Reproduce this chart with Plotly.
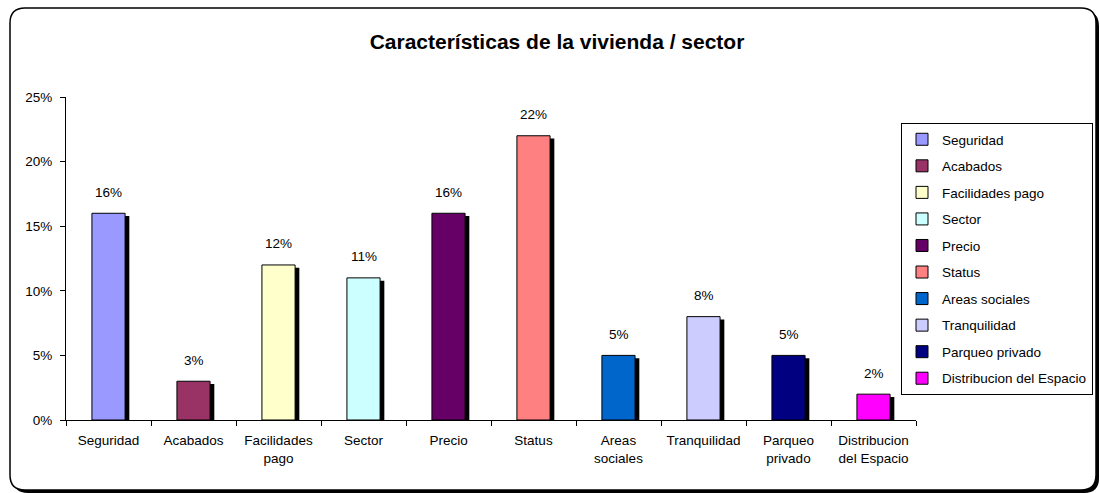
import plotly.graph_objects as go

categories = ['Seguridad', 'Acabados', 'Facilidades pago', 'Sector', 'Precio', 'Status',
              'Areas sociales', 'Tranquilidad', 'Parqueo privado', 'Distribucion del Espacio']
tick_labels = ['Seguridad', 'Acabados', 'Facilidades<br>pago', 'Sector', 'Precio', 'Status',
               'Areas<br>sociales', 'Tranquilidad', 'Parqueo<br>privado', 'Distribucion<br>del Espacio']
values = [0.16, 0.03, 0.12, 0.11, 0.16, 0.22, 0.05, 0.08, 0.05, 0.02]
colors = ['#9999FF', '#993366', '#FFFFCC', '#CCFFFF', '#660066',
          '#FF8080', '#0066CC', '#CCCCFF', '#000080', '#FF00FF']

W, H = 1100, 493
# plot area in pixels
L, R, T, B = 66, 916, 97, 420

def px_x(p):
    return (p - L) / (R - L)

def px_y(p):
    return (B - p) / (B - T)

bar_w = 0.39
shift = 0.05

fig = go.Figure()

# shadows first
for cat, val in zip(categories, values):
    fig.add_trace(go.Bar(x=[cat], y=[val - 0.0022], width=bar_w, offset=-bar_w / 2 + shift,
                         marker=dict(color='black', line=dict(width=0)),
                         showlegend=False, hoverinfo='skip'))

for i, (cat, val, col) in enumerate(zip(categories, values, colors)):
    fig.add_trace(go.Bar(x=[cat], y=[val], width=bar_w, offset=-bar_w / 2, name=cat,
                         legendgroup=str(i),
                         marker=dict(color=col, line=dict(color='black', width=1))))
    fig.add_annotation(x=cat, y=val, text=f'{round(val * 100)}%', showarrow=False,
                       yanchor='middle', yshift=21, font=dict(size=13.5, color='black'))


def rounded(x0, y0, x1, y1, r):
    pts = [
        f'M {px_x(x0 + r)},{px_y(y0)}',
        f'L {px_x(x1 - r)},{px_y(y0)}',
        f'Q {px_x(x1)},{px_y(y0)} {px_x(x1)},{px_y(y0 + r)}',
        f'L {px_x(x1)},{px_y(y1 - r)}',
        f'Q {px_x(x1)},{px_y(y1)} {px_x(x1 - r)},{px_y(y1)}',
        f'L {px_x(x0 + r)},{px_y(y1)}',
        f'Q {px_x(x0)},{px_y(y1)} {px_x(x0)},{px_y(y1 - r)}',
        f'L {px_x(x0)},{px_y(y0 + r)}',
        f'Q {px_x(x0)},{px_y(y0)} {px_x(x0 + r)},{px_y(y0)} Z',
    ]
    return ' '.join(pts)


# chart frame with its drop shadow
shapes = [
    dict(type='path', path=rounded(13, 11, 1099, 493, 15), xref='paper', yref='paper',
         fillcolor='black', line=dict(width=0), layer='below'),
    dict(type='path', path=rounded(10, 8, 1096, 490, 15), xref='paper', yref='paper',
         fillcolor='white', line=dict(color='black', width=1.5), layer='below'),
]

fig.update_layout(
    width=W, height=H,
    barmode='overlay',
    font=dict(family='Liberation Sans, Arial, sans-serif', size=13.5, color='black'),
    title=dict(text='<b>Características de la vivienda / sector</b>', x=557 / W,
               xanchor='center', y=1 - 42 / H, yanchor='middle', font=dict(size=21)),
    margin=dict(l=L, r=W - R, t=T, b=H - B, autoexpand=False),
    paper_bgcolor='white', plot_bgcolor='rgba(0,0,0,0)',
    shapes=shapes,
    showlegend=True,
    legend=dict(x=px_x(1093), y=px_y(123), xanchor='right', yanchor='top',
                bordercolor='black', borderwidth=1, bgcolor='white',
                font=dict(size=13.5), tracegroupgap=6, itemwidth=30),
    xaxis=dict(categoryorder='array', categoryarray=categories, tickvals=categories,
               ticktext=tick_labels, showline=True, linecolor='black', linewidth=1,
               ticks='outside', tickson='boundaries', ticklen=5, tickcolor='black',
               ticklabelstandoff=8, showgrid=False, range=[-0.5, 9.5]),
    yaxis=dict(range=[0, 0.25], dtick=0.05, tickformat='.0%', showline=True,
               linecolor='black', linewidth=1, ticks='outside', ticklen=5,
               tickcolor='black', ticklabelstandoff=5, showgrid=False, zeroline=False),
)

# drop the browser's default body margin so the figure fills the window
fig.write_html('out.html', config={'displayModeBar': False},
               post_script="document.body.style.margin='0';document.body.style.overflow='hidden';")
